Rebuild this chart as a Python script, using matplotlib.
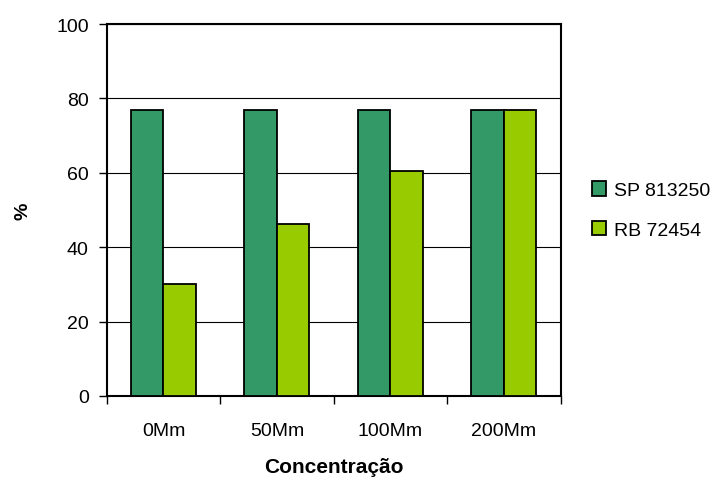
import matplotlib
matplotlib.use("Agg")
import matplotlib.pyplot as plt
import numpy as np

categories = ["0Mm", "50Mm", "100Mm", "200Mm"]
series_names = ["SP 813250", "RB 72454"]
sp_values = [76.9, 76.9, 76.9, 76.9]
rb_values = [30.0, 46.2, 60.5, 76.9]
y_ticks = [0, 20, 40, 60, 80, 100]

colors = ["#339966", "#99CC00"]

plt.rcParams["font.family"] = ["Liberation Sans", "DejaVu Sans"]

fig = plt.figure(figsize=(7.17, 4.81), dpi=100)
W, H = 717, 481
left, right, top, bottom = 106.7, 560.7, 25, 397
ax = fig.add_axes([left / W, 1 - bottom / H, (right - left) / W, (bottom - top) / H])

x = np.arange(len(categories))
bw = 0.286
ax.bar(x - bw / 2, sp_values, bw, color=colors[0], edgecolor="black",
       linewidth=1.3, label=series_names[0], zorder=3)
ax.bar(x + bw / 2, rb_values, bw, color=colors[1], edgecolor="black",
       linewidth=1.3, label=series_names[1], zorder=3)

ax.set_xlim(-0.5, len(categories) - 0.5)
ax.set_ylim(0, 100)
ax.set_yticks(y_ticks)
ax.set_yticklabels([str(v) for v in y_ticks], fontsize=14)
ax.yaxis.grid(True, color="black", linewidth=0.8, zorder=0)
ax.set_axisbelow(True)

# category labels centred, tick marks at category boundaries
ax.set_xticks(x)
ax.set_xticklabels(categories, fontsize=14)
ax.tick_params(axis="x", which="major", length=0, pad=19)
ax.set_xticks(np.arange(len(categories) + 1) - 0.5, minor=True)
ax.tick_params(axis="x", which="minor", length=6, width=1, direction="out")
ax.tick_params(axis="y", length=6, width=1, direction="out", pad=7)

for s in ax.spines.values():
    s.set_linewidth(1.5)
    s.set_color("black")

ax.set_xlabel("Concentração", fontsize=15, fontweight="bold", va="center")
ax.xaxis.set_label_coords(0.5, -0.19)
ax.set_ylabel("%", fontsize=14, fontweight="bold", va="center")
ax.yaxis.set_label_coords(-0.184, 0.5)

ax.legend(loc="center left", bbox_to_anchor=(1.03, 0.5), frameon=False,
          fontsize=14, handlelength=0.75, handleheight=0.75, handletextpad=0.4,
          labelspacing=1.1)

fig.savefig("out.png", dpi=100)
